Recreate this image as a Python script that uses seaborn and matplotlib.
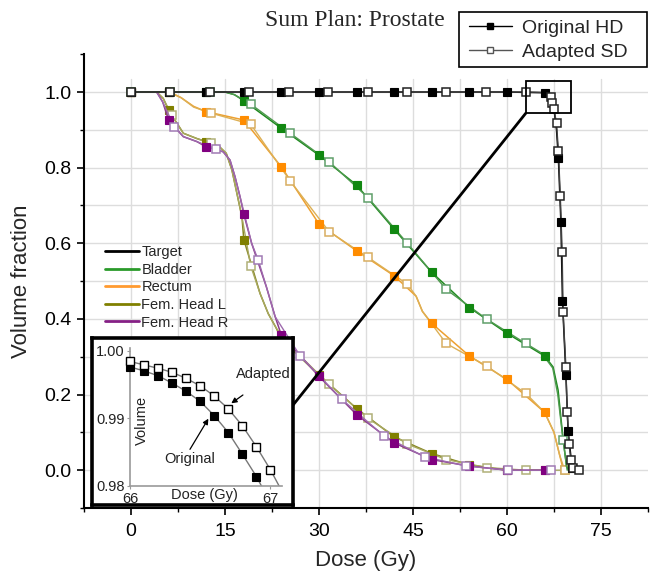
import numpy as np
import matplotlib
matplotlib.use("Agg")
import matplotlib.pyplot as plt
import seaborn as sns
from matplotlib.lines import Line2D
from matplotlib.patches import Rectangle

# ---------------- data ----------------
structures = ["Target", "Bladder", "Rectum", "Fem. Head L", "Fem. Head R"]

# Target
target_orig_dose = [0, 6, 12, 18, 24, 30, 36, 42, 48, 54, 60, 66, 68.2, 68.6, 68.85, 69.4, 69.75, 70.4]
target_orig_vol = [1, 1, 1, 1, 1, 1, 1, 1, 1, 1, 1, 0.998, 0.825, 0.657, 0.448, 0.251, 0.104, 0.005]
target_orig_shape_dose = [67.0, 67.5, 67.9, 70.7]
target_orig_shape_vol = [0.982, 0.955, 0.90, 0.0]
target_adapt_dose = [0, 6.3, 12.6, 18.9, 25.2, 31.5, 37.8, 44.1, 50.3, 56.7, 63.0, 67.1, 67.25, 67.5,
                     67.9, 68.2, 68.5, 68.8, 68.95, 69.4, 69.6, 69.9, 70.2, 70.5, 71.5]
target_adapt_vol = [1, 1, 1, 1, 1, 1, 1, 1, 1, 1, 1, 0.988, 0.972, 0.954,
                    0.917, 0.844, 0.726, 0.578, 0.417, 0.272, 0.154, 0.07, 0.026, 0.005, 0.0]
target_adapt_shape_dose = [66.0]
target_adapt_shape_vol = [0.999]

# Bladder
bladder_orig_dose = [0, 6, 12, 18, 24, 30, 36, 42, 48, 54, 60, 66]
bladder_orig_vol = [1, 1, 1, 0.977, 0.904, 0.833, 0.754, 0.637, 0.523, 0.430, 0.362, 0.302]
bladder_orig_shape_dose = [15.0, 16.5, 67.35, 68.15, 68.9, 69.5, 69.8]
bladder_orig_shape_vol = [1.0, 0.993, 0.273, 0.212, 0.09, 0.01, 0.0]
bladder_adapt_dose = [0, 6.3, 12.6, 19.1, 25.4, 31.6, 37.8, 44.1, 50.3, 56.8, 63.0, 68.95]
bladder_adapt_vol = [1, 1, 1, 0.968, 0.891, 0.816, 0.721, 0.600, 0.478, 0.399, 0.335, 0.079]
bladder_adapt_shape_dose = [15.0, 16.5, 65.5, 67.3, 68.1, 69.6]
bladder_adapt_shape_vol = [1.0, 0.993, 0.31, 0.27, 0.20, 0.0]

# Rectum
rectum_orig_dose = [0, 6, 12, 18, 24, 30, 36, 42, 48, 54, 60, 66]
rectum_orig_vol = [1, 1, 0.948, 0.926, 0.802, 0.651, 0.580, 0.514, 0.388, 0.302, 0.240, 0.153]
rectum_orig_shape_dose = [8.0, 10.0, 45.5, 46.5, 67.5, 68.4, 69.0]
rectum_orig_shape_vol = [0.985, 0.962, 0.46, 0.42, 0.10, 0.04, 0.0]
rectum_adapt_dose = [0, 6.3, 12.8, 19.1, 25.4, 31.6, 37.8, 44.1, 50.3, 56.8, 63.0, 69.2]
rectum_adapt_vol = [1, 1, 0.944, 0.915, 0.765, 0.631, 0.563, 0.492, 0.335, 0.275, 0.203, 0.0]
rectum_adapt_shape_dose = [8.0, 10.0, 45.5, 46.5, 66.0, 67.5, 68.4]
rectum_adapt_shape_vol = [0.985, 0.960, 0.46, 0.42, 0.153, 0.10, 0.04]

# Femoral head L
feml_orig_dose = [0, 6, 12, 18, 24, 30, 36, 42, 48, 54, 60, 66]
feml_orig_vol = [1, 0.952, 0.869, 0.610, 0.345, 0.252, 0.163, 0.088, 0.044, 0.014, 0.0, 0.0]
feml_adapt_dose = [0, 6.5, 12.8, 19.1, 25.3, 31.6, 37.8, 44.1, 50.3, 56.8, 63.0, 69.3]
feml_adapt_vol = [1, 0.939, 0.864, 0.540, 0.330, 0.227, 0.137, 0.069, 0.028, 0.007, 0.0, 0.0]
feml_shape_dose = [4.1, 5.15, 8.35, 10.5, 14.2, 15.2, 16.1, 16.9, 17.7, 20.6, 21.9, 23.2]
feml_shape_vol = [1.0, 0.983, 0.891, 0.877, 0.854, 0.838, 0.794, 0.732, 0.670, 0.467, 0.414, 0.375]

# Femoral head R
femr_orig_dose = [0, 6, 12, 18, 24, 30, 36, 42, 48, 54, 60, 66]
femr_orig_vol = [1, 0.926, 0.855, 0.677, 0.357, 0.248, 0.147, 0.072, 0.028, 0.011, 0.0, 0.0]
femr_adapt_dose = [0, 6.9, 13.6, 20.3, 27.0, 33.6, 40.4, 46.9, 53.5, 60.2, 67.1]
femr_adapt_vol = [1, 0.908, 0.848, 0.556, 0.302, 0.188, 0.090, 0.035, 0.011, 0.0, 0.0]
femr_shape_dose = [4.1, 5.05, 8.35, 10.5, 14.7, 15.8, 16.6, 17.4, 19.25, 21.6, 23.0]
femr_shape_vol = [1.0, 0.974, 0.882, 0.869, 0.842, 0.820, 0.776, 0.723, 0.60, 0.485, 0.406]

# Inset (zoom on target shoulder)
inset_orig_dose = [66.0, 66.1, 66.2, 66.3, 66.4, 66.5, 66.6, 66.7, 66.8, 66.9]
inset_orig_vol = [0.9976, 0.9970, 0.9963, 0.9952, 0.9940, 0.9925, 0.9904, 0.9879, 0.9847, 0.9814]
inset_orig_tail_dose = [67.0]
inset_orig_tail_vol = [0.9775]
inset_adapt_dose = [66.0, 66.1, 66.2, 66.3, 66.4, 66.5, 66.6, 66.7, 66.8, 66.9, 67.0]
inset_adapt_vol = [0.9984, 0.9979, 0.9974, 0.9968, 0.9959, 0.9948, 0.9933, 0.9914, 0.9889, 0.9858, 0.9824]
inset_adapt_tail_dose = [67.1]
inset_adapt_tail_vol = [0.9785]

xticks = [0, 15, 30, 45, 60, 75]
yticks = [0.0, 0.2, 0.4, 0.6, 0.8, 1.0]
x_grid = [0, 7.5, 15, 22.5, 30, 37.5, 45, 52.5, 60, 67.5, 75]
y_grid = [0.0, 0.1, 0.2, 0.3, 0.4, 0.5, 0.6, 0.7, 0.8, 0.9, 1.0]

# ---------------- styling ----------------
sns.set_theme(style="white")
plt.rcParams['font.family'] = ['Liberation Sans', 'DejaVu Sans']

W, H = 665, 573
fig = plt.figure(figsize=(W / 100, H / 100), dpi=100)
ax = fig.add_axes([84 / W, 1 - 508 / H, 564 / W, (508 - 54.2) / H])


def merged(md, mv, sd, sv):
    d = np.concatenate([np.asarray(md, float), np.asarray(sd, float)])
    v = np.concatenate([np.asarray(mv, float), np.asarray(sv, float)])
    order = np.lexsort((-v, d))
    return d[order], v[order]


series = [
    ("Fem. Head L", (feml_orig_dose, feml_orig_vol), (feml_shape_dose, feml_shape_vol),
     (feml_adapt_dose, feml_adapt_vol), (feml_shape_dose, feml_shape_vol),
     dict(fill="#808000", line="#858520", aline="#A8A860", edge="#B0B078")),
    ("Fem. Head R", (femr_orig_dose, femr_orig_vol), (femr_shape_dose, femr_shape_vol),
     (femr_adapt_dose, femr_adapt_vol), (femr_shape_dose, femr_shape_vol),
     dict(fill="#800080", line="#8A3A8A", aline="#9E6AAE", edge="#A07AB4")),
    ("Rectum", (rectum_orig_dose, rectum_orig_vol), (rectum_orig_shape_dose, rectum_orig_shape_vol),
     (rectum_adapt_dose, rectum_adapt_vol), (rectum_adapt_shape_dose, rectum_adapt_shape_vol),
     dict(fill="#FF8C00", line="#EDA030", aline="#DDB055", edge="#D8AE60")),
    ("Bladder", (bladder_orig_dose, bladder_orig_vol), (bladder_orig_shape_dose, bladder_orig_shape_vol),
     (bladder_adapt_dose, bladder_adapt_vol), (bladder_adapt_shape_dose, bladder_adapt_shape_vol),
     dict(fill="#118811", line="#1E8A1E", aline="#4E9A4E", edge="#5F9F6A")),
    ("Target", (target_orig_dose, target_orig_vol), (target_orig_shape_dose, target_orig_shape_vol),
     (target_adapt_dose, target_adapt_vol), (target_adapt_shape_dose, target_adapt_shape_vol),
     dict(fill="#000000", line="#000000", aline="#404040", edge="#222222")),
]

# grid (inner lines only)
for gx in x_grid:
    ax.axvline(gx, ymin=0, ymax=(1.035 + 0.1) / 1.2, color="#dddddd", lw=1.0, zorder=0)
for gy in y_grid:
    ax.axhline(gy, color="#dddddd", lw=1.0, zorder=0)

z = 3
for name, om, osh, am, ash, col in series:
    d, v = merged(om[0], om[1], osh[0], osh[1])
    sns.lineplot(x=d, y=v, sort=False, estimator=None, color=col["line"], lw=1.1, ax=ax,
                 legend=False, zorder=z)
    d, v = merged(am[0], am[1], ash[0], ash[1])
    sns.lineplot(x=d, y=v, sort=False, estimator=None, color=col["aline"], lw=1.0, ax=ax,
                 legend=False, zorder=z + 0.1)
    ax.plot(om[0], om[1], ls="none", marker="s", ms=6.0, mfc=col["fill"], mec=col["fill"],
            mew=0.8, zorder=z + 0.2, clip_on=False)
    ax.plot(am[0], am[1], ls="none", marker="s", ms=6.0, mfc="white", mec=col["edge"],
            mew=1.1, zorder=z + 0.3, clip_on=False)
    z += 1

ax.set_xlim(-7.5, 82.5)
ax.set_ylim(-0.1, 1.1)
ax.set_xticks(xticks)
ax.set_xticks(np.arange(-7.5, 82.6, 7.5), minor=True)
ax.set_yticks(yticks)
ax.set_yticks(np.arange(-0.1, 1.11, 0.1), minor=True)
ax.set_yticklabels([f"{t:.1f}" for t in yticks])
ax.grid(False)
for s in ["top", "right"]:
    ax.spines[s].set_visible(False)
for s in ["left", "bottom"]:
    ax.spines[s].set_color("black")
    ax.spines[s].set_linewidth(1.5)
ax.tick_params(which="both", bottom=True, left=True, direction="out", colors="black")
ax.tick_params(which="major", length=5, width=1.2, labelsize=14)
ax.tick_params(axis="x", which="major", pad=6)
ax.tick_params(axis="y", which="major", pad=4)
ax.tick_params(which="minor", length=3, width=1.0)
ax.set_xlabel("Dose (Gy)", fontsize=16, labelpad=7)
ax.set_ylabel("Volume fraction", fontsize=16, labelpad=9)

# zoom box and connector
ax.add_patch(Rectangle((63.0, 0.944), 7.29, 0.085, fill=False, ec="black", lw=1.3, zorder=20))
ax.plot([63.0, 25.85], [0.944, 0.172], color="black", lw=2.0, zorder=20)

# structure legend
struct_colors = ["#000000", "#2A9A2A", "#FF9A30", "#808000", "#852085"]
sh = [Line2D([], [], color=c, lw=2.0) for c in struct_colors]
ax.legend(sh, structures, loc="upper left", bbox_to_anchor=(105 / W, 1 - 245 / H),
          bbox_transform=fig.transFigure, frameon=False, fontsize=10.5, handlelength=2.3,
          handletextpad=0.2, labelspacing=0.25, borderpad=0, borderaxespad=0)

# plan legend (frame drawn separately)
ph = [Line2D([], [], color="black", lw=1.0, marker="s", ms=5, mfc="black", mec="black"),
      Line2D([], [], color="#555555", lw=1.0, marker="s", ms=5, mfc="white", mec="#555555")]
fig.legend(ph, ["Original HD", "Adapted SD"], loc="upper left",
           bbox_to_anchor=(469 / W, 1 - 19 / H), bbox_transform=fig.transFigure,
           fontsize=14, frameon=False, borderpad=0, handlelength=2.2, handletextpad=0.55,
           labelspacing=0.36, borderaxespad=0)
fig.patches.append(Rectangle((459.3 / W, 1 - 66.7 / H), (646.7 - 459.3) / W, 55 / H,
                             transform=fig.transFigure, fill=False, ec="black", lw=1.2))

# title
fig.text(355 / W, 1 - 21 / H, "Sum Plan: Prostate", ha="center", va="center", fontsize=17,
         family=["Liberation Serif", "DejaVu Serif"])

# inset frame
axf = fig.add_axes([92 / W, 1 - 505 / H, (293 - 92) / W, (505 - 338) / H])
axf.set_facecolor("white")
axf.set_xticks([])
axf.set_yticks([])
for s in axf.spines.values():
    s.set_color("black")
    s.set_linewidth(2.6)

# inset axes
axi = fig.add_axes([130 / W, 1 - 486 / H, (281.7 - 130) / W, (486 - 348.3) / H])
axi.set_facecolor("none")
d, v = merged(inset_orig_dose, inset_orig_vol, inset_orig_tail_dose, inset_orig_tail_vol)
sns.lineplot(x=d, y=v, sort=False, estimator=None, color="#777777", lw=1.0, ax=axi, legend=False)
d, v = merged(inset_adapt_dose, inset_adapt_vol, inset_adapt_tail_dose, inset_adapt_tail_vol)
sns.lineplot(x=d, y=v, sort=False, estimator=None, color="#777777", lw=1.0, ax=axi, legend=False)
axi.plot(inset_orig_dose, inset_orig_vol, ls="none", marker="s", ms=5.2, mfc="black", mec="black",
         mew=0.8, clip_on=False, zorder=5)
axi.plot(inset_adapt_dose, inset_adapt_vol, ls="none", marker="s", ms=5.2, mfc="white", mec="black",
         mew=1.0, clip_on=False, zorder=5)
axi.set_xlim(66, 67.08)
axi.set_ylim(0.98, 1.00035)
axi.set_xticks([66, 67])
axi.set_yticks([0.98, 0.99, 1.00])
axi.set_yticklabels(["0.98", "0.99", "1.00"])
axi.grid(False)
for s in ["top", "right"]:
    axi.spines[s].set_visible(False)
for s in ["left", "bottom"]:
    axi.spines[s].set_color("#999999")
    axi.spines[s].set_linewidth(1.2)
axi.tick_params(which="both", bottom=True, left=True, direction="out", length=2.5, width=0.8,
                color="#999999", labelsize=10.5, pad=1.5, labelcolor="#222222")
axi.text(0.49, -0.065, "Dose (Gy)", transform=axi.transAxes, ha="center", va="center",
         fontsize=10.5, color="#222222")
axi.text(0.077, 0.478, "Volume", transform=axi.transAxes, ha="center", va="center",
         rotation=90, fontsize=10.5, color="#222222")
axi.annotate("", xy=(66.721, 0.99222), xytext=(66.804, 0.99345),
             arrowprops=dict(arrowstyle="-|>", color="black", lw=0.9, mutation_scale=8,
                             shrinkA=0, shrinkB=0))
axi.text(66.947, 0.99655, "Adapted", ha="center", va="center", fontsize=10.5, color="#222222")
axi.annotate("", xy=(66.558, 0.98995), xytext=(66.427, 0.98542),
             arrowprops=dict(arrowstyle="-|>", color="black", lw=0.9, mutation_scale=8,
                             shrinkA=0, shrinkB=0))
axi.text(66.422, 0.98394, "Original", ha="center", va="center", fontsize=10.5, color="#222222")

fig.savefig("out.png", dpi=100)
